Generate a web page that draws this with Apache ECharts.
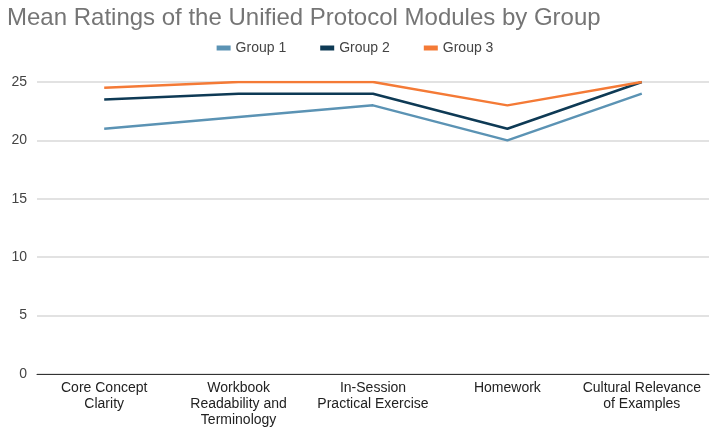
<!DOCTYPE html>
<html><head><meta charset="utf-8">
<script src="https://cdn.jsdelivr.net/npm/echarts@6/dist/echarts.min.js"></script>
<style>html,body{margin:0;padding:0;background:#fff}#c{width:710px;height:430px}</style>
</head><body><div id="c"></div>
<script>
const categories = ["Core Concept\nClarity", "Workbook\nReadability and\nTerminology", "In-Session\nPractical Exercise", "Homework", "Cultural Relevance\nof Examples"];
const group1 = [21, 22, 23, 20, 24];
const group2 = [23.5, 24, 24, 21, 25];
const group3 = [24.5, 25, 25, 23, 25];
const seriesNames = ["Group 1", "Group 2", "Group 3"];
const colors = ["#5b93b4", "#0e3a55", "#f47a36"];
const yTicks = [0, 5, 10, 15, 20, 25];
const FF = '"Liberation Sans", Arial, sans-serif';

const chart = echarts.init(document.getElementById('c'));
const mk = (name, data, color) => ({
  name, type: 'line', data, symbol: 'none', smooth: false,
  lineStyle: { width: 2.5, color }, itemStyle: { color }
});
chart.setOption({
  animation: false,
  title: {
    text: 'Mean Ratings of the Unified Protocol Modules by Group',
    left: 2, top: 1,
    textStyle: { fontFamily: FF, fontSize: 24, fontWeight: 'normal', color: '#757575' }
  },
  legend: {
    top: 36, left: 'center',
    itemWidth: 14, itemHeight: 5, itemGap: 34,
    icon: 'rect',
    textStyle: { fontFamily: FF, fontSize: 14, color: '#444' },
    data: seriesNames
  },
  grid: { left: 37, right: 1, top: 82, bottom: 56, containLabel: false },
  xAxis: {
    type: 'category', data: categories, boundaryGap: true,
    axisLine: { show: true, lineStyle: { color: '#333', width: 1 } },
    axisTick: { show: false },
    axisLabel: { interval: 0, color: '#222', fontSize: 14, lineHeight: 16, margin: 6, fontFamily: FF }
  },
  yAxis: {
    type: 'value', min: yTicks[0], max: yTicks[yTicks.length - 1], interval: 5,
    axisLine: { show: false }, axisTick: { show: false },
    splitLine: { lineStyle: { color: '#d9d9d9', width: 1.5 } },
    axisLabel: { color: '#444', fontSize: 14, margin: 10, fontFamily: FF }
  },
  series: [mk(seriesNames[0], group1, colors[0]), mk(seriesNames[1], group2, colors[1]), mk(seriesNames[2], group3, colors[2])]
});
</script></body></html>
